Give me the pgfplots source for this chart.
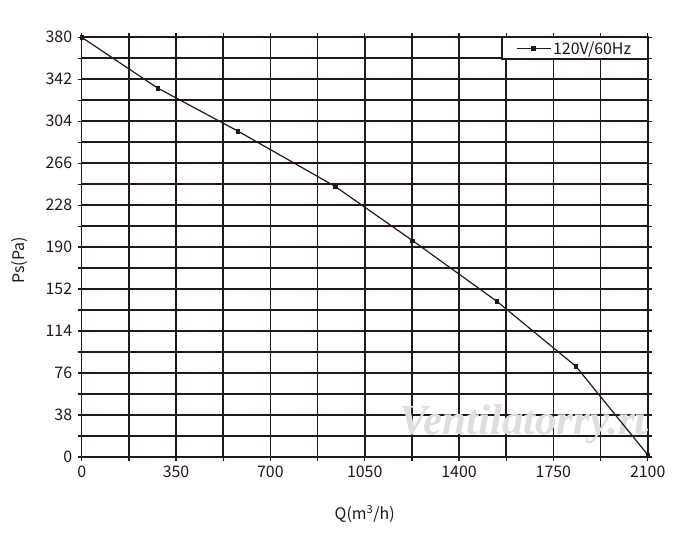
\documentclass[border=0pt]{standalone}
\usepackage{fontspec}
\setmainfont{Noto Sans CJK SC}
\newfontfamily\wmfont{Liberation Serif}
\usepackage{pgfplots}
\pgfplotsset{compat=1.18}
\definecolor{gc}{HTML}{231815}
\begin{document}
\begin{tikzpicture}[x=1bp,y=1bp]
\path[use as bounding box] (-81.7,-89) rectangle (618.3,457);
\begin{axis}[
  at={(0,0)}, anchor=south west,
  width=566bp, height=419.7bp, scale only axis,
  xmin=0, xmax=2100, ymin=0, ymax=380,
  xtick={0,350,...,2100}, minor xtick={175,525,...,1925},
  ytick={0,38,...,380}, minor ytick={19,57,...,361},
  grid=both,
  major grid style={gc, line width=1.6bp},
  minor grid style={gc, line width=1.6bp},
  axis line style={gc, line width=1.6bp},
  tick align=outside,
  major tick length=4bp, minor tick length=4bp,
  every tick/.style={gc, line width=1.3bp},
  every minor tick/.style={gc, line width=1.3bp},
  /pgf/number format/assume math mode=true,
  /pgf/number format/1000 sep={},
  ticklabel style={font=\fontsize{16}{18}\selectfont, text=gc},
  xticklabel style={yshift=-1bp},
  yticklabel style={xshift=-2bp},
  xlabel={Q(m\textsuperscript{3}/h)},
  ylabel={Ps(Pa)},
  every axis x label/.style={at={(axis description cs:0.5,0)}, anchor=center, yshift=-57bp, font=\fontsize{16}{18}\selectfont, text=gc},
  every axis y label/.style={at={(axis description cs:-0.109,0.4688)}, anchor=center, rotate=90, font=\fontsize{16}{18}\selectfont, text=gc},
  legend style={at={(1,1)}, anchor=north east, draw=gc, line width=1.2bp, fill=white,
    font=\fontsize{16}{18}\selectfont, text=gc, inner xsep=14bp, inner ysep=1.5bp,
    legend cell align=left},
  legend image code/.code={
    \draw[#1, line width=1.2bp] (0bp,0bp) -- (34bp,0bp);
    \fill[gc] (17bp,0bp) +(-1.8bp,-1.8bp) rectangle +(1.8bp,1.8bp);
  },
]
\node[text=black!13, font=\wmfont\itshape\bfseries\fontsize{43}{45}\selectfont] at (axis cs:1660,30) {Ventilatorry.ru};
\addplot[gc, line width=1.2bp, mark=square*, mark size=1.7bp, mark options={fill=gc, line width=0.5bp}]
  coordinates {
  (0,380) (282,334) (580,295) (940,245) (1227,196) (1540,141) (1834,82) (2100,2)
  };
\addlegendentry{120V/60Hz}
\end{axis}
\end{tikzpicture}
\end{document}
